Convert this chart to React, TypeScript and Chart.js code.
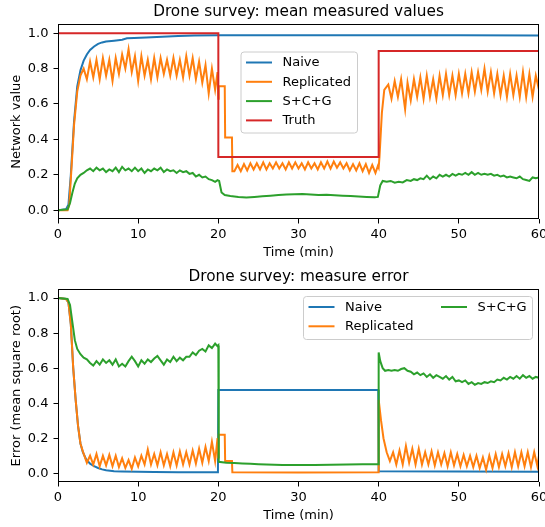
import { useEffect, useRef } from "react";
import { Chart, registerables } from "chart.js";

Chart.register(...registerables);

type P = [number, number];

const FONT = "DejaVu Sans";
const xTicks = [0, 10, 20, 30, 40, 50, 60];
const yTicks = [0, 0.2, 0.4, 0.6, 0.8, 1.0];
const seriesNames = ["Naive", "Replicated", "S+C+G", "Truth"];
const seriesColors = ["#1f77b4", "#ff7f0e", "#2ca02c", "#d62728"];

// ---------- Top chart: mean measured values ----------
const naiveTop: P[] = [
  [0, 0], [1.0, 0.005], [1.3, 0.03], [1.6, 0.2], [2.0, 0.5], [2.4, 0.7], [2.8, 0.79], [3.2, 0.845],
  [3.6, 0.88], [4.0, 0.905], [4.5, 0.925], [5.0, 0.94], [5.5, 0.948], [6.0, 0.953], [7.0, 0.958],
  [8.0, 0.963], [8.6, 0.971], [9.5, 0.973], [11, 0.976], [13, 0.98], [15, 0.984], [17, 0.987],
  [20, 0.989], [30, 0.988], [40, 0.988], [50, 0.988], [60, 0.987],
];

const replicatedTop: P[] = [
  [0, 0], [1.2, 0], [1.4, 0.03], [1.7, 0.25], [2.0, 0.48], [2.4, 0.67], [2.8, 0.76], [3.2, 0.8],
  [3.6, 0.74], [4.0, 0.84], [4.4, 0.75], [4.8, 0.85], [5.2, 0.74], [5.6, 0.86], [6.0, 0.76], [6.4, 0.85],
  [6.8, 0.73], [7.2, 0.86], [7.6, 0.77], [8.0, 0.88], [8.4, 0.8], [8.8, 0.91], [9.2, 0.78], [9.6, 0.87],
  [10.0, 0.73], [10.4, 0.87], [10.8, 0.76], [11.2, 0.85], [11.6, 0.74], [12.0, 0.86], [12.4, 0.75],
  [12.8, 0.86], [13.2, 0.77], [13.6, 0.85], [14.0, 0.76], [14.4, 0.86], [14.8, 0.76], [15.2, 0.85],
  [15.6, 0.75], [16.0, 0.87], [16.4, 0.76], [16.8, 0.86], [17.2, 0.74], [17.6, 0.84], [18.0, 0.72],
  [18.4, 0.82], [18.8, 0.66], [19.2, 0.8], [19.6, 0.68], [19.9, 0.78], [20.0, 0.63],
  [20.05, 0.7], [20.8, 0.7], [20.85, 0.41], [21.7, 0.41], [21.75, 0.22],
  [22.0, 0.22], [22.4, 0.255], [22.8, 0.22], [23.2, 0.26], [23.6, 0.225], [24.0, 0.265], [24.4, 0.23],
  [24.8, 0.265], [25.2, 0.23], [25.6, 0.27], [26.0, 0.23], [26.4, 0.265], [26.8, 0.235], [27.2, 0.27],
  [27.6, 0.235], [28.0, 0.265], [28.4, 0.23], [28.8, 0.27], [29.2, 0.235], [29.6, 0.27], [30.0, 0.235],
  [30.4, 0.265], [30.8, 0.23], [31.2, 0.27], [31.6, 0.235], [32.0, 0.265], [32.4, 0.23], [32.8, 0.27],
  [33.2, 0.235], [33.6, 0.275], [34.0, 0.235], [34.4, 0.275], [34.8, 0.24], [35.2, 0.27], [35.6, 0.235],
  [36.0, 0.265], [36.4, 0.225], [36.8, 0.26], [37.2, 0.225], [37.6, 0.265], [38.0, 0.22], [38.4, 0.26],
  [38.8, 0.21], [39.2, 0.255], [39.6, 0.21], [39.9, 0.25], [40.0, 0.24],
  [40.1, 0.3], [40.4, 0.55], [40.7, 0.68], [41.2, 0.71], [41.6, 0.63], [42.0, 0.73], [42.4, 0.64],
  [42.8, 0.74], [43.3, 0.57], [43.6, 0.72], [44.0, 0.62], [44.4, 0.74], [44.8, 0.64], [45.2, 0.75],
  [45.6, 0.63], [46.0, 0.76], [46.4, 0.64], [46.8, 0.74], [47.2, 0.63], [47.6, 0.76], [48.0, 0.65],
  [48.4, 0.77], [48.8, 0.65], [49.2, 0.76], [49.6, 0.65], [50.0, 0.77], [50.4, 0.66], [50.8, 0.77],
  [51.2, 0.66], [51.6, 0.78], [52.0, 0.67], [52.4, 0.78], [52.8, 0.68], [53.2, 0.8], [53.6, 0.67],
  [54.0, 0.78], [54.4, 0.66], [54.8, 0.77], [55.2, 0.65], [55.6, 0.76], [56.0, 0.64], [56.4, 0.77],
  [56.8, 0.65], [57.2, 0.76], [57.6, 0.64], [58.0, 0.78], [58.4, 0.64], [58.8, 0.77], [59.2, 0.64],
  [59.6, 0.76], [60.0, 0.68],
];

const scgTop: P[] = [
  [0, 0], [1.2, 0.005], [1.5, 0.04], [1.8, 0.1], [2.1, 0.15], [2.4, 0.18], [2.8, 0.2], [3.2, 0.21],
  [3.6, 0.225], [4.0, 0.235], [4.4, 0.22], [4.8, 0.24], [5.2, 0.225], [5.6, 0.235], [6.0, 0.215],
  [6.4, 0.23], [6.8, 0.22], [7.2, 0.24], [7.6, 0.215], [8.0, 0.245], [8.4, 0.225], [8.8, 0.235],
  [9.2, 0.22], [9.6, 0.24], [10.0, 0.22], [10.4, 0.235], [10.8, 0.21], [11.2, 0.23], [11.6, 0.22],
  [12.0, 0.235], [12.4, 0.225], [12.8, 0.24], [13.2, 0.215], [13.6, 0.23], [14.0, 0.22], [14.4, 0.225],
  [14.8, 0.21], [15.2, 0.225], [15.6, 0.215], [16.0, 0.22], [16.4, 0.205], [16.8, 0.21], [17.2, 0.19],
  [17.6, 0.2], [18.0, 0.185], [18.4, 0.19], [18.8, 0.175], [19.2, 0.17], [19.6, 0.16], [19.9, 0.17],
  [20.1, 0.165], [20.4, 0.1], [20.8, 0.085], [21.5, 0.08], [22.5, 0.075], [23.5, 0.072], [24.5, 0.075],
  [25.5, 0.078], [26.5, 0.082], [27.5, 0.085], [28.5, 0.088], [29.5, 0.09], [30.5, 0.091], [31.5, 0.088],
  [32.5, 0.086], [33.5, 0.087], [34.5, 0.084], [35.5, 0.082], [36.5, 0.08], [37.5, 0.077], [38.5, 0.075],
  [39.5, 0.073], [39.9, 0.075], [40.2, 0.14], [40.5, 0.165], [41.0, 0.16], [41.5, 0.165], [42.0, 0.155],
  [42.5, 0.16], [43.0, 0.157], [43.5, 0.17], [44.0, 0.165], [44.4, 0.175], [44.8, 0.17], [45.2, 0.18],
  [45.6, 0.175], [46.0, 0.195], [46.4, 0.175], [46.8, 0.19], [47.2, 0.18], [47.6, 0.2], [48.0, 0.19],
  [48.4, 0.2], [48.8, 0.19], [49.2, 0.205], [49.6, 0.195], [50.0, 0.205], [50.4, 0.2], [50.8, 0.21],
  [51.2, 0.2], [51.6, 0.215], [52.0, 0.2], [52.4, 0.21], [52.8, 0.2], [53.2, 0.205], [53.6, 0.2],
  [54.0, 0.205], [54.4, 0.195], [54.8, 0.2], [55.2, 0.19], [55.6, 0.195], [56.0, 0.185], [56.4, 0.19],
  [56.8, 0.185], [57.2, 0.18], [57.6, 0.19], [58.0, 0.175], [58.4, 0.17], [58.8, 0.165], [59.2, 0.185],
  [59.6, 0.18], [60.0, 0.185],
];

const truthTop: P[] = [
  [0, 1.0], [20, 1.0], [20, 0.3], [40, 0.3], [40, 0.9], [60, 0.9],
];

// ---------- Bottom chart: measure error ----------
const naiveErr: P[] = [
  [0, 1.0], [1.0, 0.995], [1.3, 0.975], [1.6, 0.85], [1.9, 0.6], [2.2, 0.42], [2.5, 0.27], [2.8, 0.17],
  [3.1, 0.12], [3.5, 0.08], [4.0, 0.055], [4.5, 0.04], [5.0, 0.03], [5.5, 0.022], [6.0, 0.017],
  [7.0, 0.012], [8.0, 0.01], [10, 0.008], [12, 0.007], [15, 0.006], [18, 0.005], [19.95, 0.005],
  [20.0, 0.475], [30, 0.475], [39.95, 0.475], [40.0, 0.012], [50, 0.01], [60, 0.009],
];

const replicatedErr: P[] = [
  [0, 1.0], [1.0, 0.995], [1.3, 0.975], [1.6, 0.85], [1.9, 0.6], [2.2, 0.42], [2.5, 0.27], [2.8, 0.17],
  [3.1, 0.125], [3.6, 0.06], [4.0, 0.1], [4.4, 0.05], [4.8, 0.11], [5.2, 0.04], [5.6, 0.1], [6.0, 0.045],
  [6.4, 0.105], [6.8, 0.04], [7.2, 0.1], [7.6, 0.035], [8.0, 0.085], [8.4, 0.03], [8.8, 0.075],
  [9.2, 0.025], [9.6, 0.09], [10.0, 0.04], [10.4, 0.1], [10.8, 0.05], [11.2, 0.135], [11.6, 0.05],
  [12.0, 0.11], [12.4, 0.045], [12.8, 0.12], [13.2, 0.045], [13.6, 0.11], [14.0, 0.04], [14.4, 0.12],
  [14.8, 0.045], [15.2, 0.125], [15.6, 0.05], [16.0, 0.12], [16.4, 0.05], [16.8, 0.13], [17.2, 0.055],
  [17.6, 0.14], [18.0, 0.06], [18.4, 0.15], [18.8, 0.07], [19.2, 0.18], [19.6, 0.07], [19.9, 0.2],
  [20.0, 0.09], [20.05, 0.22], [20.8, 0.22], [20.85, 0.07], [21.7, 0.07], [21.75, 0.005],
  [30, 0.004], [39.95, 0.005], [40.0, 0.42], [40.3, 0.3], [40.6, 0.2], [41.0, 0.12], [41.4, 0.07],
  [41.8, 0.12], [42.2, 0.05], [42.6, 0.13], [43.0, 0.05], [43.4, 0.155], [43.8, 0.06], [44.2, 0.14],
  [44.6, 0.05], [45.0, 0.14], [45.4, 0.05], [45.8, 0.12], [46.2, 0.05], [46.6, 0.125], [47.0, 0.045],
  [47.4, 0.12], [47.8, 0.05], [48.2, 0.115], [48.6, 0.04], [49.0, 0.12], [49.4, 0.045], [49.8, 0.11],
  [50.2, 0.04], [50.6, 0.105], [51.0, 0.04], [51.4, 0.1], [51.8, 0.035], [52.2, 0.1], [52.6, 0.03],
  [53.0, 0.09], [53.4, 0.02], [53.8, 0.1], [54.2, 0.03], [54.6, 0.11], [55.0, 0.035], [55.4, 0.11],
  [55.8, 0.04], [56.2, 0.115], [56.6, 0.035], [57.0, 0.12], [57.4, 0.04], [57.8, 0.12], [58.2, 0.04],
  [58.6, 0.12], [59.0, 0.035], [59.4, 0.12], [59.8, 0.04], [60.0, 0.1],
];

const scgErr: P[] = [
  [0, 1.0], [1.2, 0.995], [1.5, 0.96], [1.8, 0.86], [2.1, 0.76], [2.4, 0.71], [2.8, 0.68], [3.2, 0.66],
  [3.6, 0.65], [4.0, 0.63], [4.4, 0.615], [4.8, 0.64], [5.2, 0.62], [5.6, 0.65], [6.0, 0.63], [6.4, 0.645],
  [6.8, 0.62], [7.2, 0.65], [7.6, 0.61], [8.0, 0.625], [8.4, 0.61], [8.8, 0.64], [9.2, 0.665], [9.6, 0.64],
  [10.0, 0.61], [10.4, 0.645], [10.8, 0.625], [11.2, 0.65], [11.6, 0.635], [12.0, 0.655], [12.4, 0.67],
  [12.8, 0.645], [13.2, 0.62], [13.6, 0.65], [14.0, 0.635], [14.4, 0.665], [14.8, 0.64], [15.2, 0.66],
  [15.6, 0.645], [16.0, 0.665], [16.4, 0.665], [16.8, 0.69], [17.2, 0.675], [17.6, 0.7], [18.0, 0.71],
  [18.4, 0.695], [18.8, 0.73], [19.2, 0.715], [19.6, 0.74], [19.9, 0.725], [20.0, 0.73],
  [20.05, 0.065], [21, 0.06], [22, 0.058], [23, 0.056], [24, 0.054], [25, 0.052], [26, 0.05], [27, 0.048],
  [28, 0.047], [30, 0.047], [32, 0.047], [34, 0.048], [36, 0.05], [38, 0.051], [39.95, 0.052],
  [40.0, 0.69], [40.2, 0.64], [40.5, 0.6], [40.8, 0.585], [41.2, 0.59], [41.6, 0.585], [42.0, 0.59],
  [42.4, 0.585], [42.8, 0.595], [43.2, 0.6], [43.6, 0.585], [44.0, 0.58], [44.4, 0.565], [44.8, 0.575],
  [45.2, 0.56], [45.6, 0.57], [46.0, 0.55], [46.4, 0.565], [46.8, 0.545], [47.2, 0.56], [47.6, 0.55],
  [48.0, 0.54], [48.4, 0.555], [48.8, 0.535], [49.2, 0.55], [49.6, 0.525], [50.0, 0.53], [50.4, 0.52],
  [50.8, 0.53], [51.2, 0.51], [51.6, 0.52], [52.0, 0.505], [52.4, 0.515], [52.8, 0.51], [53.2, 0.52],
  [53.6, 0.515], [54.0, 0.525], [54.4, 0.52], [54.8, 0.535], [55.2, 0.53], [55.6, 0.545], [56.0, 0.535],
  [56.4, 0.55], [56.8, 0.54], [57.2, 0.555], [57.6, 0.54], [58.0, 0.56], [58.4, 0.545], [58.8, 0.555],
  [59.2, 0.54], [59.6, 0.55], [60.0, 0.545],
];

type LegendItem = { index: number; x: number; y: number };
type LegendSpec = { box: { x: number; y: number; w: number; h: number }; items: LegendItem[] };

function makeFramePlugin() {
  return {
    id: "frame",
    afterDatasetsDraw(chart: any) {
      const { ctx, chartArea } = chart;
      const l = Math.round(chartArea.left) + 0.5;
      const t = Math.round(chartArea.top) + 0.5;
      const r = Math.round(chartArea.right) - 0.5;
      const b = Math.round(chartArea.bottom) - 0.5;
      ctx.save();
      ctx.strokeStyle = "#000";
      ctx.lineWidth = 1;
      ctx.strokeRect(l, t, r - l, b - t);
      ctx.restore();
    },
  };
}

function makeLegendPlugin(spec: LegendSpec) {
  return {
    id: "boxLegend",
    afterDraw(chart: any) {
      const ctx = chart.ctx;
      const { x, y, w, h } = spec.box;
      ctx.save();
      ctx.beginPath();
      (ctx as any).roundRect(x + 0.5, y + 0.5, w, h, 3);
      ctx.fillStyle = "rgba(255,255,255,0.8)";
      ctx.fill();
      ctx.strokeStyle = "#cccccc";
      ctx.lineWidth = 1;
      ctx.stroke();
      ctx.font = `13px "${FONT}"`;
      ctx.textBaseline = "middle";
      ctx.textAlign = "left";
      for (const it of spec.items) {
        const ds = chart.data.datasets[it.index];
        ctx.strokeStyle = ds.borderColor;
        ctx.lineWidth = 2;
        ctx.beginPath();
        ctx.moveTo(it.x, it.y);
        ctx.lineTo(it.x + 26, it.y);
        ctx.stroke();
        ctx.fillStyle = "#000";
        ctx.fillText(ds.label, it.x + 36.5, it.y + 0.5);
      }
      ctx.restore();
    },
  };
}

type PanelProps = {
  title: string;
  yTitle: string;
  series: P[][];
  legend: LegendSpec;
  top: number;
  height: number;
};

function Panel({ title, yTitle, series, legend, top, height }: PanelProps) {
  const ref = useRef<HTMLCanvasElement>(null);
  useEffect(() => {
    const n = series.length;
    const chart = new Chart(ref.current!, {
      type: "line",
      data: {
        datasets: series.map((pts, i) => ({
          label: seriesNames[i],
          data: pts.map(([x, y]) => ({ x, y })),
          borderColor: seriesColors[i],
          backgroundColor: seriesColors[i],
          borderWidth: 2,
          pointRadius: 0,
          tension: 0,
          fill: false,
          order: n - 1 - i,
        })),
      },
      options: {
        responsive: false,
        animation: false,
        events: [],
        layout: { padding: { left: 0, right: 6, top: 0, bottom: 0 } },
        plugins: {
          legend: { display: false },
          tooltip: { enabled: false },
          title: {
            display: true,
            text: title,
            fullSize: false,
            color: "#000",
            font: { family: FONT, size: 15.3, weight: "normal" },
            padding: { top: 3, bottom: 3 },
          },
        },
        scales: {
          x: {
            type: "linear",
            min: 0,
            max: 60,
            afterBuildTicks: (s: any) => {
              s.ticks = xTicks.map((v) => ({ value: v }));
            },
            afterFit: (s: any) => {
              s.height = 45;
              s.paddingLeft = 0;
              s.paddingRight = 0;
            },
            ticks: {
              color: "#000",
              font: { family: FONT, size: 13 },
              padding: 3,
              maxRotation: 0,
              autoSkip: false,
              callback: (v: any) => String(v),
            },
            grid: { drawOnChartArea: false, drawTicks: true, tickLength: 4.5, color: "#000", lineWidth: 1 },
            border: { display: false },
            title: {
              display: true,
              text: "Time (min)",
              color: "#000",
              font: { family: FONT, size: 13 },
              padding: { top: 0, bottom: 4 },
            },
          },
          y: {
            type: "linear",
            min: -0.05,
            max: 1.05,
            afterBuildTicks: (s: any) => {
              s.ticks = yTicks.map((v) => ({ value: v }));
            },
            afterFit: (s: any) => {
              s.width = 58;
              s.paddingTop = 0;
              s.paddingBottom = 0;
            },
            ticks: {
              color: "#000",
              font: { family: FONT, size: 13 },
              padding: 5,
              autoSkip: false,
              callback: (v: any) => Number(v).toFixed(1),
            },
            grid: { drawOnChartArea: false, drawTicks: true, tickLength: 4.5, color: "#000", lineWidth: 1 },
            border: { display: false },
            title: {
              display: true,
              text: yTitle,
              color: "#000",
              font: { family: FONT, size: 13 },
              padding: { top: 9, bottom: 0 },
            },
          },
        },
      } as any,
      plugins: [makeFramePlugin(), makeLegendPlugin(legend)],
    });
    return () => chart.destroy();
  }, []);
  return (
    <div style={{ position: "absolute", left: 0, top, width: 545, height }}>
      <canvas ref={ref} width={545} height={height} style={{ display: "block" }} />
    </div>
  );
}

const topLegend: LegendSpec = {
  box: { x: 240.5, y: 51.5, w: 116.5, h: 81 },
  items: [
    { index: 0, x: 246, y: 62.5 },
    { index: 1, x: 246, y: 81.8 },
    { index: 2, x: 246, y: 101.1 },
    { index: 3, x: 246, y: 120.4 },
  ],
};

const bottomLegend: LegendSpec = {
  box: { x: 303, y: 31, w: 229, h: 43 },
  items: [
    { index: 0, x: 308.5, y: 42 },
    { index: 1, x: 308.5, y: 61.3 },
    { index: 2, x: 441, y: 42 },
  ],
};

export default function App() {
  return (
    <div style={{ position: "absolute", left: 0, top: 0, width: 545, height: 527, background: "#fff" }}>
      <Panel
        title="Drone survey: mean measured values"
        yTitle="Network value"
        series={[naiveTop, replicatedTop, scgTop, truthTop]}
        legend={topLegend}
        top={0}
        height={264}
      />
      <Panel
        title="Drone survey: measure error"
        yTitle="Error (mean square root)"
        series={[naiveErr, replicatedErr, scgErr]}
        legend={bottomLegend}
        top={265}
        height={262}
      />
    </div>
  );
}
